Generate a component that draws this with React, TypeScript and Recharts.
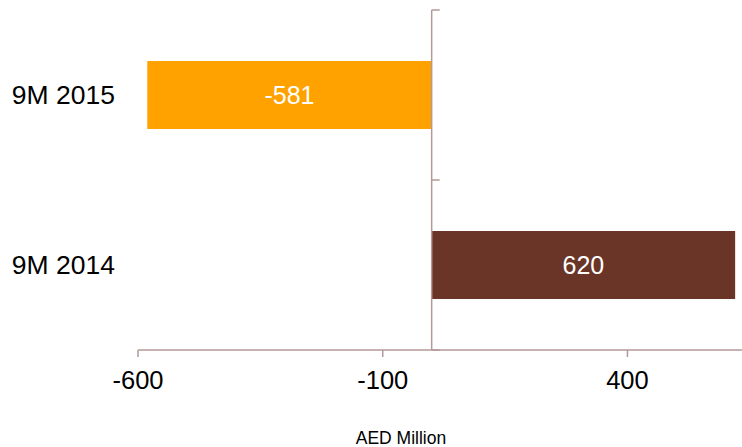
import React from 'react';
import { BarChart, Bar, XAxis, YAxis, Cell, LabelList, ReferenceLine } from 'recharts';

const categories = ['9M 2015', '9M 2014'];
const values = [-581, 620];
const barColors = ['#FFA200', '#6A3527'];
const xTicks = [-600, -100, 400];
const xDomain = [-600, 634];
const axisLabel = 'AED Million';

const data = categories.map((name, i) => ({ name, value: values[i], color: barColors[i] }));

const AXIS_COLOR = '#B59898';

const ZeroAxis = (props: any) => {
  const { x1, y1, x2, y2 } = props;
  const mid = (y1 + y2) / 2;
  return (
    <g>
      <line x1={x1} y1={y1} x2={x2} y2={y2} stroke={AXIS_COLOR} strokeWidth={1.5} />
      <line x1={x1} y1={y1} x2={x1 + 8} y2={y1} stroke={AXIS_COLOR} strokeWidth={1.5} />
      <line x1={x1} y1={mid} x2={x1 + 8} y2={mid} stroke={AXIS_COLOR} strokeWidth={1.5} />
      <line x1={x1} y1={y2} x2={x1 + 8} y2={y2} stroke={AXIS_COLOR} strokeWidth={1.5} />
    </g>
  );
};

export default function App() {
  return (
    <div style={{ position: 'absolute', left: 0, top: 0, fontFamily: 'Arial, "Liberation Sans", sans-serif' }}>
      <BarChart
        width={742}
        height={447}
        data={data}
        layout="vertical"
        margin={{ top: 10, right: 0, bottom: 0, left: 0 }}
      >
        <XAxis
          type="number"
          domain={xDomain}
          ticks={xTicks}
          allowDataOverflow
          height={97}
          stroke={AXIS_COLOR}
          strokeWidth={1.5}
          tickSize={7}
          tickMargin={14}
          tick={{ fill: '#000', fontSize: 25.5 }}
          label={{ value: axisLabel, position: 'insideBottom', offset: 3, dx: -39, fontSize: 17.5, fill: '#000' }}
        />
        <YAxis
          type="category"
          dataKey="name"
          width={138}
          axisLine={false}
          tickLine={false}
          tickSize={6}
          tickMargin={17}
          tick={{ fill: '#000', fontSize: 26.5 }}
        />
        <Bar dataKey="value" barSize={68} isAnimationActive={false}>
          {data.map((d, i) => (
            <Cell key={i} fill={d.color} />
          ))}
          <LabelList dataKey="value" position="center" fill="#fff" fontSize={25} />
        </Bar>
        <ReferenceLine x={0} stroke={AXIS_COLOR} shape={ZeroAxis} />
      </BarChart>
    </div>
  );
}
